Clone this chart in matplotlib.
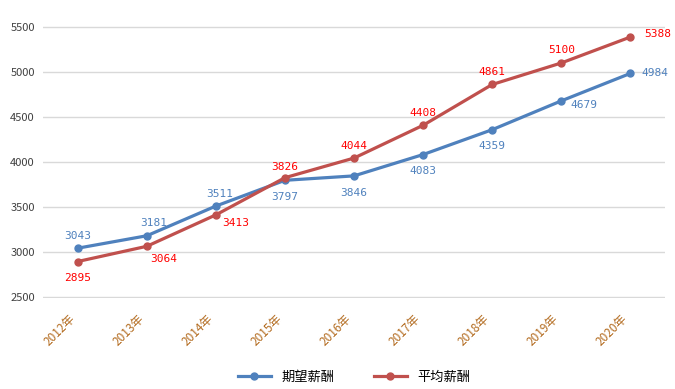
import matplotlib
matplotlib.use('Agg')
import matplotlib.pyplot as plt

plt.rcParams['font.family'] = ['Noto Sans CJK SC', 'DejaVu Sans']

# Chart data
years = ['2012年', '2013年', '2014年', '2015年', '2016年', '2017年', '2018年', '2019年', '2020年']
expected_pay = [3043, 3181, 3511, 3797, 3846, 4083, 4359, 4679, 4984]
average_pay = [2895, 3064, 3413, 3826, 4044, 4408, 4861, 5100, 5388]

# label offsets in points (dx, dy) for each point
blue_offsets = [(0, 9), (5, 9), (3, 9), (0, -12), (0, -12), (0, -12), (0, -12), (16, -3), (18, 0)]
red_offsets = [(0, -12), (12, -9), (14, -6), (0, 8), (0, 9), (0, 9), (0, 9), (0, 9), (20, 2)]

blue = '#4F81BD'
red = '#C0504D'

fig = plt.figure(figsize=(6.75, 3.89), dpi=100)
ax = fig.add_axes([0.064, 0.234, 0.921, 0.699])

x = list(range(len(years)))
ax.plot(x, expected_pay, color=blue, lw=2.3, marker='o', ms=5, label='期望薪酬')
ax.plot(x, average_pay, color=red, lw=2.3, marker='o', ms=5, label='平均薪酬')

for i in x:
    dx, dy = blue_offsets[i]
    ax.annotate(str(expected_pay[i]), (i, expected_pay[i]), xytext=(dx, dy),
                textcoords='offset points', ha='center', va='center',
                color=blue, fontsize=8, family='DejaVu Sans Mono')
    dx, dy = red_offsets[i]
    ax.annotate(str(average_pay[i]), (i, average_pay[i]), xytext=(dx, dy),
                textcoords='offset points', ha='center', va='center',
                color='#FF0000', fontsize=8, family='DejaVu Sans Mono')

ax.set_xlim(-0.5, 8.5)
ax.set_ylim(2490, 5510)
ax.set_yticks(range(2500, 5501, 500))
ax.grid(axis='y', color='#D9D9D9', lw=1)
ax.set_axisbelow(True)
for s in ax.spines.values():
    s.set_visible(False)
ax.tick_params(length=0)
ax.tick_params(axis='y', labelsize=8, colors='#404040', pad=6)
ax.set_xticks(x)
ax.set_xticklabels(years, rotation=45, ha='right', va='top',
                   fontsize=8.5, color='#B36B1F')
ax.tick_params(axis='x', pad=10)

ax.legend(loc='upper center', bbox_to_anchor=(0.5, -0.225), ncol=2, frameon=False,
          fontsize=9.5, handlelength=2.5, columnspacing=3)

fig.savefig('out.png', dpi=100)
